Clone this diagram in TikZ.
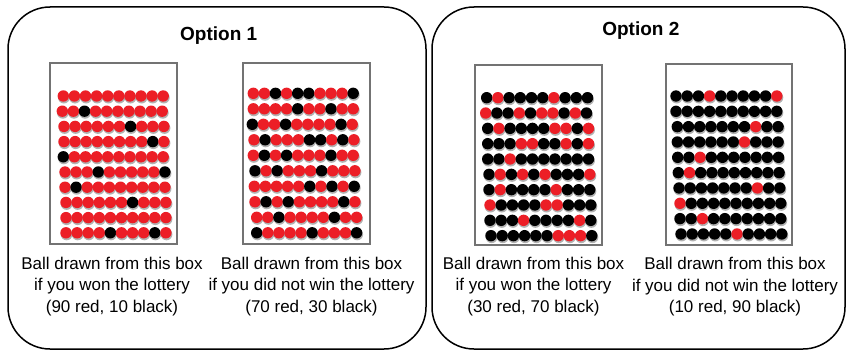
\documentclass[tikz,border=0pt]{standalone}
\usepackage{fontspec}
\setmainfont{Liberation Sans}
\usetikzlibrary{positioning, shadows}
\definecolor{ballred}{RGB}{236,30,38}
\definecolor{urngray}{RGB}{115,115,115}

% #1 row/x of first ball, #2 y of first row, #3 row step, #4 ball step,
% #5 main colour, #6 row/col of the odd balls, #7 odd colour
\newcommand{\ballgrid}[7]{%
  \foreach \r/\xs in {#1}{%
    \foreach \c in {1,...,10}{%
      \fill[ballshade] ({\xs+(\c-1)*#4+0.6},{#2+(\r-1)*#3+1.6}) circle[radius=5.9pt];
    }}
  \foreach \r/\xs in {#1}{%
    \foreach \c in {1,...,10}{%
      \xdef\ballcol{#5}%
      \foreach \rr/\cc in {#6}{\ifnum\rr=\r\relax\ifnum\cc=\c\relax\xdef\ballcol{#7}\fi\fi}%
      \fill[fill=\ballcol] ({\xs+(\c-1)*#4},{#2+(\r-1)*#3}) circle[radius=5.7pt];
    }}
}

\begin{document}
\begin{tikzpicture}[x=1pt, y=-1pt,
  option/.style={draw, line width=1.5pt, rounded corners=42pt,
                 minimum height=342pt, inner sep=0pt},
  urn/.style={draw=urngray, line width=1.1pt, fill=white, inner sep=0pt,
              minimum width=127pt, minimum height=181pt,
              drop shadow={shadow xshift=1pt, shadow yshift=-1pt, opacity=0.25}},
  caption/.style={align=center, inner sep=0pt, font=\fontsize{17}{21.5}\selectfont},
  title/.style={anchor=base, inner sep=0pt, font=\fontsize{19}{23}\selectfont\bfseries},
  ballshade/.style={fill=black, opacity=0.3}]
\useasboundingbox (0,0) rectangle (848,353);
\node[option, minimum width=418pt] (opt1) at (217,178) {};
\node[option, minimum width=413pt] (opt2) at (638.5,178) {};
\node[title] (title1) at (218.7,41) {Option 1};
\node[title] (title2) at (640.8,36) {Option 2};
\node[urn] (urn1) at (113.5,153.5) {};
\node[urn] (urn2) at (306.5,153.5) {};
\node[urn, minimum height=180pt] (urn3) at (538.5,155) {};
\node[urn, minimum width=126pt] (urn4) at (729,154.5) {};
\node[caption, below=12pt of urn1, xshift=-1.5pt] (cap1)
  {Ball drawn from this box\\ if you won the lottery\\ (90 red, 10 black)};
\node[caption, below=12pt of urn2, xshift=5pt] (cap2)
  {Ball drawn from this box\\ if you did not win the lottery\\ (70 red, 30 black)};
\node[caption, below=11pt of urn3, xshift=-5pt] (cap3)
  {Ball drawn from this box\\ if you won the lottery\\ (30 red, 70 black)};
\node[caption, below=11.5pt of urn4, xshift=6pt] (cap4)
  {Ball drawn from this box\\ if you did not win the lottery\\ (10 red, 90 black)};
\ballgrid{1/63.3,2/62.3,3/64,4/64,5/63.3,6/65,7/65,8/66,9/66,10/66}{96}{15.2}{11.1}
  {ballred}{2/3,3/7,4/9,5/1,6/4,6/10,7/2,8/7,10/5,10/9}{black}
\ballgrid{1/253.3,2/253.3,3/252.3,4/254,5/253.3,6/255,7/254.3,8/255,9/256.7,10/256.7}{93.3}{15.5}{11.1}
  {ballred}{1/3,1/5,1/6,1/10,2/5,2/8,3/1,3/4,3/9,4/2,4/6,4/7,4/9,5/2,5/4,5/8,6/1,6/3,6/7,
   7/6,7/8,7/10,8/2,8/4,8/9,9/3,9/8,10/1,10/6,10/10}{black}
\ballgrid{1/486.7,2/485.7,3/487.7,4/487.7,5/487.7,6/489,7/489,8/490,9/490,10/491}{97.7}{15.33}{11.2}
  {black}{1/2,1/7,2/1,2/4,2/6,2/7,2/9,3/2,3/7,3/8,3/10,4/4,4/5,4/8,4/10,5/3,6/2,6/4,6/6,6/10,
   7/2,7/7,8/1,8/6,8/7,9/4,9/9,10/7,10/8,10/9}{ballred}
\ballgrid{1/676,2/676,3/677.3,4/677.3,5/677.7,6/678.3,7/679,8/680,9/680,10/681}{96}{15.33}{11.2}
  {black}{1/4,1/10,3/8,4/7,5/3,6/2,7/8,8/1,9/3,10/6}{ballred}
\end{tikzpicture}
\end{document}
